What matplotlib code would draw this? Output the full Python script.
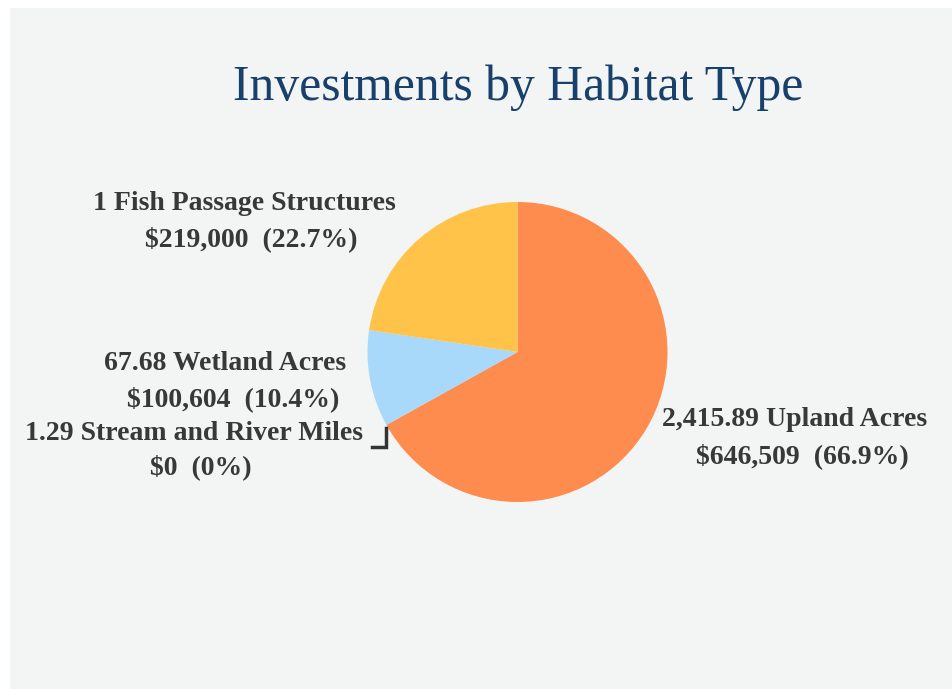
import matplotlib
matplotlib.use("Agg")
import matplotlib.pyplot as plt
from matplotlib.patches import Rectangle

categories = ["Upland Acres", "Stream and River Miles", "Wetland Acres", "Fish Passage Structures"]
quantities = ["2,415.89", "1.29", "67.68", "1"]
amounts = [646509, 0, 100604, 219000]
percents = ["66.9%", "0%", "10.4%", "22.7%"]
colors = ["#FF8C4F", "#A9D9FA", "#A9D9FA", "#FFC34A"]

W, H = 952, 689
fig = plt.figure(figsize=(W / 100, H / 100), dpi=100)
fig.patch.set_facecolor("white")
ax = fig.add_axes([0, 0, 1, 1])
ax.set_xlim(0, W)
ax.set_ylim(0, H)
ax.set_aspect("equal")
ax.axis("off")

def Y(y):
    return H - y

ax.add_patch(Rectangle((10, 0), W - 10, H - 8, facecolor="#F3F5F5", edgecolor="none", zorder=0))

ax.pie(amounts, colors=colors, startangle=90, counterclock=False,
       center=(517.5, Y(352)), radius=150, frame=True,
       wedgeprops=dict(linewidth=0))
ax.set_xlim(0, W)
ax.set_ylim(0, H)
ax.axis("off")

ax.text(518, Y(88), "Investments by Habitat Type", fontsize=35.7, family="Liberation Serif",
        color="#17406D", ha="center", va="center")

tc = "#383838"
fs = 20
label_pos = {
    0: ((795, 419), (802, 456)),
    1: ((194, 434), (201, 467)),
    2: ((225, 363), (233, 399)),
    3: ((244, 203), (251, 239)),
}
for i in range(4):
    (x1, y1), (x2, y2) = label_pos[i]
    ax.text(x1, Y(y1), f"{quantities[i]} {categories[i]}", fontsize=fs, family="Liberation Serif",
            weight="bold", color=tc, ha="center", va="center")
    ax.text(x2, Y(y2), f"${amounts[i]:,}  ({percents[i]})", fontsize=fs, family="Liberation Serif",
            weight="bold", color=tc, ha="center", va="center")

ax.plot([372, 386, 386], [Y(447), Y(447), Y(428)], color="#333333", lw=2.5, solid_joinstyle="miter")

fig.savefig("out.png", dpi=100, facecolor=fig.get_facecolor())
